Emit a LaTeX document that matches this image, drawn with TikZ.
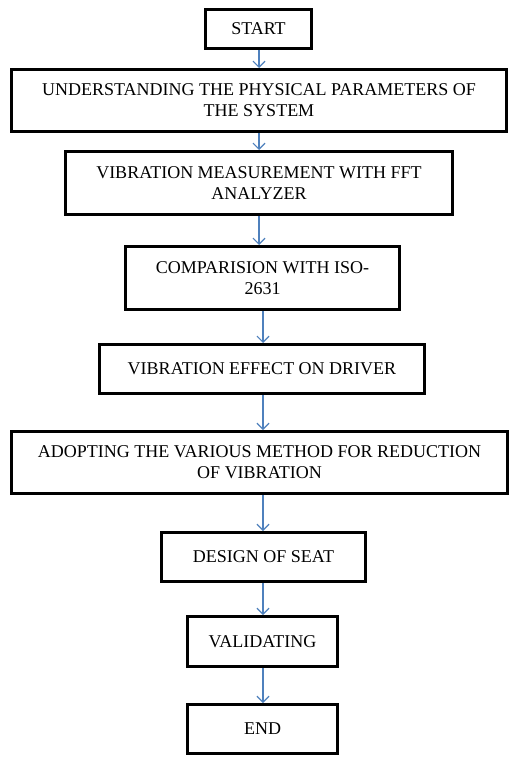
\documentclass[tikz,border=0pt]{standalone}
\usepackage{fontspec}
\setmainfont{Liberation Serif}
\usetikzlibrary{arrows.meta}
\definecolor{flowblue}{RGB}{79,129,189}
\begin{document}
\begin{tikzpicture}[x=1pt,y=-1pt,
  stepbox/.style={draw=black, line width=3pt, fill=white, rectangle,
    inner sep=0pt, align=center, font=\fontsize{18}{21}\selectfont},
  flow/.style={draw=flowblue, line width=1.2pt,
    -{Straight Barb[length=6pt,width=12pt]}}]
\useasboundingbox (0,0) rectangle (511,757);
\fill[white] (0,0) rectangle (511,757);

% process steps
\node[stepbox, minimum width=106pt, minimum height=39pt] (start) at (258.5,29) {START};
\node[stepbox, minimum width=495pt, minimum height=62pt] (phys) at (259,100.5)
  {UNDERSTANDING THE PHYSICAL PARAMETERS OF\\THE SYSTEM};
\node[stepbox, minimum width=387pt, minimum height=63pt] (fft) at (259,183)
  {VIBRATION MEASUREMENT WITH FFT\\ANALYZER};
\node[stepbox, minimum width=274pt, minimum height=63pt] (iso) at (262.5,278)
  {COMPARISION WITH ISO-\\2631};
\node[stepbox, minimum width=325pt, minimum height=49pt] (effect) at (262,369)
  {VIBRATION EFFECT ON DRIVER};
\node[stepbox, minimum width=496pt, minimum height=62pt] (adopt) at (259.5,462.5)
  {ADOPTING THE VARIOUS METHOD FOR REDUCTION\\OF VIBRATION};
\node[stepbox, minimum width=204pt, minimum height=49pt] (seat) at (263.5,557)
  {DESIGN OF SEAT};
\node[stepbox, minimum width=150pt, minimum height=50pt] (valid) at (262.5,641.5)
  {VALIDATING};
\node[stepbox, minimum width=150pt, minimum height=49pt] (stop) at (262.5,729)
  {END};

% arrow columns
\coordinate (c1) at (259,0);
\coordinate (c2) at (263,0);

% connectors
\draw[flow] (start.south -| c1) -- (phys.north -| c1);
\draw[flow] (phys.south -| c1) -- (fft.north -| c1);
\draw[flow] (fft.south -| c1) -- (iso.north -| c1);
\draw[flow] (iso.south -| c2) -- (effect.north -| c2);
\draw[flow] (effect.south -| c2) -- (adopt.north -| c2);
\draw[flow] (adopt.south -| c2) -- (seat.north -| c2);
\draw[flow] (seat.south -| c2) -- (valid.north -| c2);
\draw[flow] (valid.south -| c2) -- (stop.north -| c2);
\end{tikzpicture}
\end{document}
